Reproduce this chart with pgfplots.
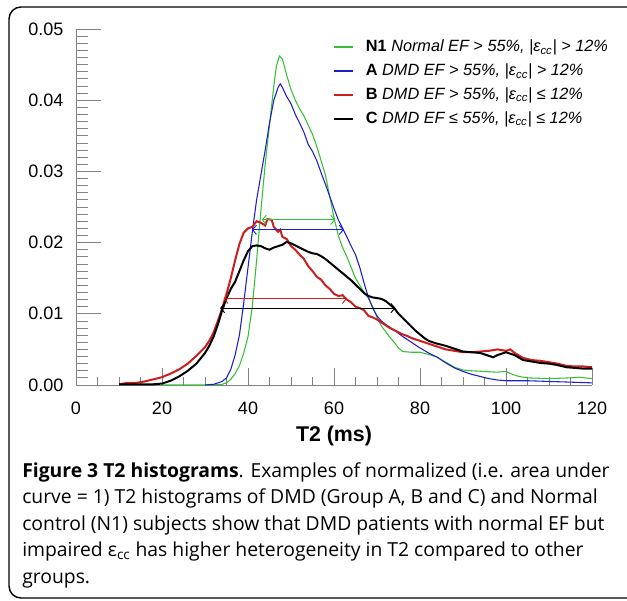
\documentclass[border=0pt]{standalone}
\usepackage{fontspec}
\setmainfont{Liberation Sans}
\newfontfamily\capfont{Open Sans}
\usepackage{pgfplots}
\pgfplotsset{compat=1.18}
\usetikzlibrary{arrows.meta}
\definecolor{cgreen}{RGB}{55,190,55}
\definecolor{cblue}{RGB}{30,30,200}
\definecolor{cred}{RGB}{205,30,30}
\definecolor{caxis}{RGB}{130,130,130}
\begin{document}
\begin{tikzpicture}
\useasboundingbox (0,0) rectangle (470.25pt,450pt);
\draw[line width=1.1pt, rounded corners=9pt] (6.75pt,1.5pt) rectangle (485pt,444.75pt);
\begin{axis}[
  at={(57pt,161.25pt)}, anchor=south west,
  width=387pt, height=267pt, scale only axis,
  xmin=0, xmax=120, ymin=0, ymax=0.05,
  axis x line=bottom, axis y line=left,
  axis line style={-, caxis, line width=0.6pt},
  tick align=inside,
  xtick={0,20,...,120}, minor x tick num=3,
  ytick={0,0.01,0.02,0.03,0.04,0.05}, minor y tick num=9,
  tick style={caxis, line width=0.6pt},
  xtick style={/pgfplots/major tick length=13pt, /pgfplots/minor tick length=6pt},
  ytick style={/pgfplots/major tick length=19pt, /pgfplots/minor tick length=9pt},
  scaled y ticks=false,
  yticklabel style={/pgf/number format/fixed, /pgf/number format/fixed zerofill, /pgf/number format/precision=2, anchor=east, xshift=-6pt},
  xticklabel style={yshift=-9.5pt},
  /pgf/number format/assume math mode=true,
  tick label style={font=\fontsize{13.5}{16}\selectfont, black},
  xlabel={T2 (ms)},
  xlabel style={font=\bfseries\fontsize{16}{19}\selectfont, at={(axis description cs:0.5,0)}, anchor=center, yshift=-38.5pt},
  legend style={draw=none, fill=none, at={(0.49,0.985)}, anchor=north west, font=\fontsize{12.2}{14.5}\selectfont, row sep=3.6pt, /tikz/every odd column/.append style={column sep=7pt}},
  legend cell align=left,
  legend image code/.code={\draw[#1, line width=1.4pt] (0cm,0cm) -- (0.5cm,0cm);},
]
\addplot[cgreen, line width=0.8pt] coordinates {
(20,0) (25,0) (30,0) (34,0.0001) (35,0.0003) (36,0.0008) (37,0.0016) (38,0.0027) (39,0.0045) (40,0.0068) (41,0.011) (42,0.0175) (43,0.0245) (44,0.031) (45,0.0365) (46,0.042) (46.6,0.0448) (47.3,0.0462) (48,0.0458) (49,0.0435) (50,0.0415) (51,0.04) (52,0.0388) (53,0.0378) (54,0.0365) (55,0.0352) (56,0.0335) (57,0.0315) (58,0.0295) (59,0.0265) (60,0.0235) (61,0.021) (62,0.0193) (63,0.018) (64,0.0165) (65,0.015) (66,0.014) (67,0.013) (68,0.0122) (69,0.011) (70,0.0095) (71,0.0083) (72,0.0075) (73,0.0067) (74,0.006) (75,0.0052) (76,0.0047) (78,0.0046) (80,0.0046) (82,0.0043) (84,0.0039) (86,0.0032) (88,0.0025) (90,0.0021) (92,0.002) (95,0.0019) (98,0.0018) (100,0.0019) (101,0.0016) (103,0.0012) (105,0.001) (110,0.0009) (115,0.001) (117,0.0011) (120,0.0009)
};
\addlegendentry{\textbf{N1} \textit{Normal EF > 55\%, |ε\textsubscript{cc}| > 12\%}}
\addplot[cblue, line width=0.8pt] coordinates {
(30,0) (32,0.0001) (34,0.0005) (35,0.001) (36,0.0022) (37,0.0042) (38,0.007) (39,0.0115) (40,0.0165) (41,0.0215) (42,0.026) (43,0.0295) (44,0.033) (45,0.0368) (46,0.04) (47,0.0418) (47.5,0.0423) (48,0.0418) (49,0.0405) (50,0.0395) (51,0.038) (52,0.0368) (53,0.0355) (54,0.0338) (55,0.0328) (56,0.0315) (57,0.0298) (58,0.0282) (59,0.0265) (60,0.0248) (61,0.0232) (62,0.022) (63,0.0208) (64,0.0195) (65,0.0183) (66,0.0165) (67,0.0143) (68,0.0123) (69,0.0108) (70,0.0097) (71,0.009) (72,0.0085) (73,0.0081) (74,0.0077) (76,0.0068) (78,0.006) (80,0.0052) (82,0.0045) (84,0.0039) (86,0.0031) (88,0.0024) (90,0.0019) (92,0.0015) (94,0.0012) (96,0.0009) (98,0.0007) (100,0.0006) (105,0.0006) (110,0.0005) (115,0.0004) (120,0.0003)
};
\addlegendentry{\textbf{A} \textit{DMD EF > 55\%, |ε\textsubscript{cc}| > 12\%}}
\addplot[cred, line width=1.5pt] coordinates {
(10,0.0001) (12,0.0003) (14,0.0003) (16,0.0005) (18,0.0008) (20,0.0011) (22,0.0016) (24,0.0022) (26,0.003) (28,0.0041) (30,0.0053) (31,0.0062) (32,0.0074) (33,0.009) (34,0.0108) (35,0.0128) (36,0.015) (37,0.0175) (38,0.0198) (39,0.0214) (40,0.022) (41,0.0222) (42,0.023) (43,0.0228) (44,0.0224) (44.5,0.0233) (45.5,0.0232) (46,0.0222) (47,0.0215) (47.5,0.0218) (48,0.0208) (49,0.0205) (50,0.0195) (51,0.019) (52,0.0183) (53,0.0177) (54,0.0167) (55,0.016) (56,0.0152) (57,0.0148) (58,0.014) (59,0.0135) (60,0.0128) (61,0.0125) (62,0.0126) (63,0.012) (64,0.0116) (65,0.011) (66,0.0108) (67,0.0105) (68,0.0097) (69,0.0095) (70,0.0092) (71,0.0088) (72,0.0084) (73,0.008) (74,0.0077) (75,0.0074) (76,0.0071) (77,0.0069) (78,0.0066) (80,0.0062) (82,0.0058) (84,0.0054) (86,0.005) (88,0.0048) (90,0.0046) (92,0.0046) (94,0.0047) (96,0.0048) (98,0.005) (100,0.0048) (101,0.005) (102,0.0045) (104,0.0038) (106,0.0035) (108,0.0034) (110,0.0032) (112,0.003) (114,0.0027) (116,0.0026) (118,0.0026) (120,0.0025)
};
\addlegendentry{\textbf{B} \textit{DMD EF > 55\%, |ε\textsubscript{cc}| ≤ 12\%}}
\addplot[black, line width=1.5pt] coordinates {
(10,0.0001) (14,0.0001) (18,0.0001) (20,0.0002) (22,0.0006) (24,0.0012) (26,0.002) (28,0.003) (30,0.0045) (31,0.0055) (32,0.0068) (33,0.0085) (34,0.0105) (35,0.0122) (36,0.0135) (37,0.0145) (38,0.016) (39,0.0175) (40,0.0188) (41,0.0195) (42,0.0196) (43,0.0195) (44,0.0192) (45,0.019) (46,0.0193) (47,0.0195) (48,0.0197) (49,0.0201) (50,0.0199) (51,0.0196) (52,0.0193) (53,0.019) (54,0.0187) (55,0.0185) (56,0.0184) (57,0.0181) (58,0.0177) (59,0.0172) (60,0.0167) (61,0.0162) (62,0.0157) (63,0.0152) (64,0.0147) (65,0.0141) (66,0.0135) (67,0.0129) (68,0.0125) (69,0.0123) (70,0.0122) (71,0.0121) (72,0.0118) (73,0.0113) (74,0.0108) (75,0.01) (76,0.0094) (77,0.0088) (78,0.0082) (79,0.0076) (80,0.0071) (81,0.0066) (82,0.0062) (84,0.0058) (86,0.0055) (88,0.0051) (90,0.0047) (92,0.0046) (94,0.0045) (96,0.0041) (97,0.0039) (98,0.0042) (100,0.0046) (102,0.0042) (104,0.0035) (106,0.0033) (108,0.0031) (110,0.003) (112,0.0028) (114,0.0025) (116,0.0024) (118,0.0023) (120,0.0023)
};
\addlegendentry{\textbf{C} \textit{DMD EF ≤ 55\%, |ε\textsubscript{cc}| ≤ 12\%}}
\addplot[cgreen, line width=0.7pt, <->, >={Straight Barb[length=3pt,width=7pt]}, forget plot] coordinates {(43.2,0.0232) (60.3,0.0232)};
\addplot[cblue, line width=0.7pt, <->, >={Straight Barb[length=3pt,width=7pt]}, forget plot] coordinates {(40.9,0.0218) (62.3,0.0218)};
\addplot[cred, line width=0.7pt, <->, >={Straight Barb[length=3pt,width=7pt]}, forget plot] coordinates {(34.3,0.0121) (63,0.0121)};
\addplot[black, line width=0.7pt, <->, >={Straight Barb[length=3pt,width=7pt]}, forget plot] coordinates {(33.5,0.0108) (74.3,0.0108)};
\end{axis}
\begin{scope}[every node/.style={anchor=base west, inner sep=0pt, font=\capfont\fontsize{14.5}{17}\selectfont}]
\node at (16.5pt,92.25pt) {\textbf{Figure 3 T2 histograms}. Examples of normalized (i.e. area under};
\node at (16.5pt,72.4pt) {curve = 1) T2 histograms of DMD (Group A, B and C) and Normal};
\node at (16.5pt,52.5pt) {control (N1) subjects show that DMD patients with normal EF but};
\node at (16.5pt,32.6pt) {impaired ε\textsubscript{cc} has higher heterogeneity in T2 compared to other};
\node at (16.5pt,12.75pt) {groups.};
\end{scope}
\end{tikzpicture}
\end{document}
